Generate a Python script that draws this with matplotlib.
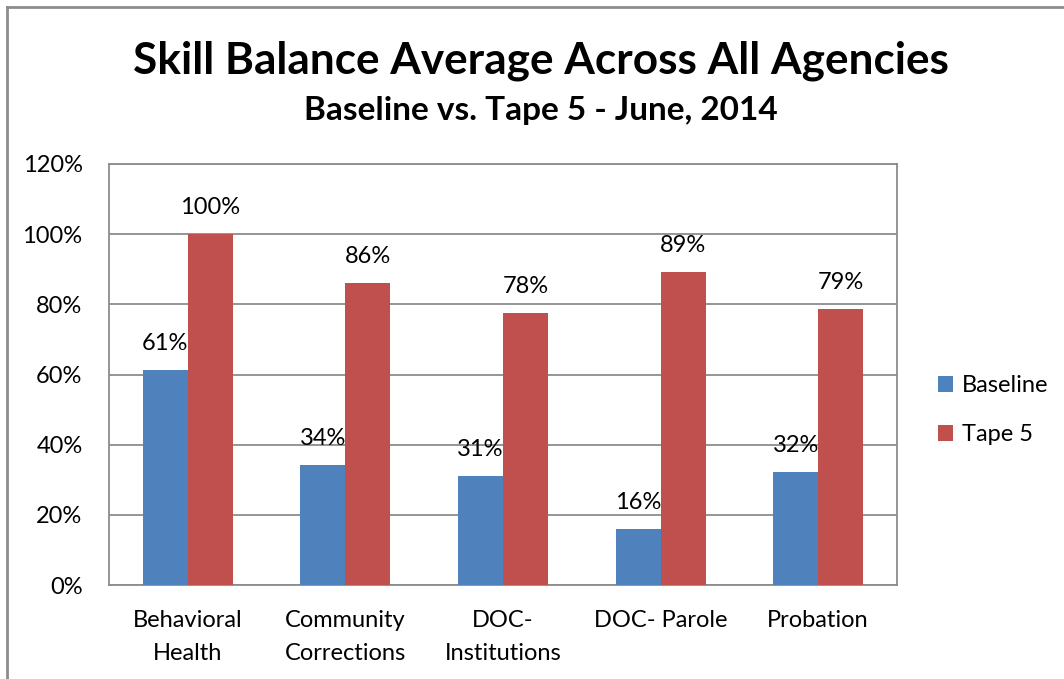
import numpy as np
import matplotlib.pyplot as plt
from matplotlib.lines import Line2D
from matplotlib.ticker import PercentFormatter

plt.rcParams['font.family'] = ['Lato', 'DejaVu Sans']

# Kategoriler ve seriler
ajanslar = ["Behavioral\nHealth", "Community\nCorrections", "DOC-\nInstitutions", "DOC- Parole", "Probation"]
baseline = [0.613, 0.342, 0.312, 0.160, 0.322]
tape5 = [1.00, 0.862, 0.776, 0.893, 0.788]

fig = plt.figure(figsize=(10.64, 6.79), dpi=100)
ax = fig.add_axes([0.1024, 0.1384, 0.7406, 0.6201])

x = np.arange(len(ajanslar))
w = 1 / 3.5
b1 = ax.bar(x - w / 2, baseline, w, color="#4F81BD", label="Baseline", zorder=3)
b2 = ax.bar(x + w / 2, tape5, w, color="#C0504D", label="Tape 5", zorder=3)

# Veri etiketleri
for bars, vals in [(b1, baseline), (b2, tape5)]:
    for bar, v in zip(bars, vals):
        ax.annotate(f"{v*100:.0f}%", (bar.get_x() + bar.get_width() / 2, v),
                    xytext=(0, 19), textcoords="offset points",
                    ha="center", va="center", fontsize=17)

ax.set_xlim(-0.5, len(ajanslar) - 0.5)
ax.set_ylim(0, 1.2)
ax.set_yticks(np.arange(0, 1.21, 0.2))
ax.yaxis.set_major_formatter(PercentFormatter(1.0, decimals=0))
ax.set_xticks(x)
ax.set_xticklabels(ajanslar, linespacing=1.72)
ax.tick_params(axis="both", length=0, labelsize=17)
ax.tick_params(axis="y", pad=19)
ax.tick_params(axis="x", pad=18)
ax.yaxis.grid(True, color="#8c8c8c", linewidth=1.3, zorder=0)
for s in ax.spines.values():
    s.set_color("#8c8c8c")
    s.set_linewidth(1.3)

ax.legend(loc="center left", bbox_to_anchor=(1.025, 0.415), frameon=False,
          fontsize=17, handlelength=0.65, handleheight=0.65, handletextpad=0.35,
          labelspacing=1.2)

# Başlıklar
fig.text(0.508, 0.911, "Skill Balance Average Across All Agencies",
         ha="center", va="center", fontsize=31.8, fontweight="bold")
fig.text(0.508, 0.837, "Baseline vs. Tape 5 - June, 2014",
         ha="center", va="center", fontsize=24, fontweight="bold")

# Grafik çerçevesi (üst ve sol)
fig.add_artist(Line2D([0.0066, 1.0], [0.990, 0.990], color="#8c8c8c", linewidth=2))
fig.add_artist(Line2D([0.0066, 0.0066], [0.0, 0.990], color="#8c8c8c", linewidth=2))

fig.savefig("out.png", dpi=100)
